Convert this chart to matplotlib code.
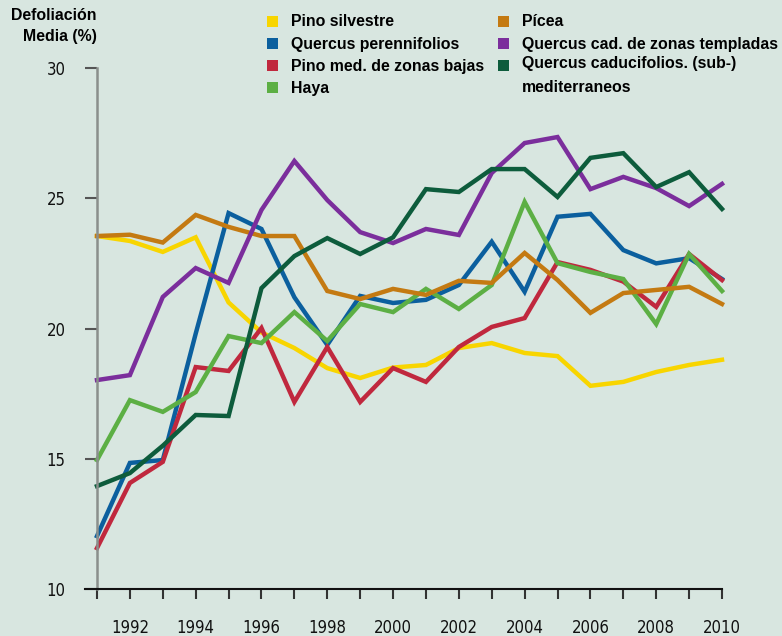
import matplotlib
matplotlib.use('Agg')
import matplotlib.pyplot as plt
from matplotlib.patches import Rectangle

years = list(range(1991, 2011))

pino_silvestre = [23.55, 23.36, 22.94, 23.5, 21.0, 19.85, 19.25, 18.48, 18.1, 18.5,
                  18.6, 19.25, 19.44, 19.06, 18.94, 17.8, 17.95, 18.33, 18.6, 18.8]
quercus_perenn = [12.03, 14.84, 14.95, 19.8, 24.43, 23.82, 21.2, 19.37, 21.25, 20.98,
                  21.1, 21.67, 23.33, 21.41, 24.29, 24.4, 23.01, 22.5, 22.7, 21.9]
pino_med = [11.57, 14.07, 14.88, 18.52, 18.37, 20.02, 17.18, 19.29, 17.18, 18.48,
            17.95, 19.29, 20.06, 20.4, 22.55, 22.25, 21.8, 20.83, 22.86, 21.86]
haya = [14.95, 17.25, 16.8, 17.56, 19.71, 19.44, 20.63, 19.52, 20.94, 20.63,
        21.52, 20.75, 21.67, 24.86, 22.51, 22.17, 21.9, 20.17, 22.86, 21.44]
picea = [23.55, 23.6, 23.3, 24.36, 23.9, 23.55, 23.55, 21.44, 21.13, 21.52,
         21.29, 21.83, 21.75, 22.9, 21.86, 20.6, 21.36, 21.48, 21.6, 20.94]
quercus_templ = [18.02, 18.21, 21.21, 22.32, 21.75, 24.55, 26.43, 24.93, 23.7, 23.28,
                 23.82, 23.59, 25.97, 27.12, 27.35, 25.35, 25.82, 25.39, 24.7, 25.55]
quercus_medit = [13.95, 14.45, 15.5, 16.68, 16.64, 21.55, 22.78, 23.47, 22.86, 23.5,
                 25.35, 25.24, 26.12, 26.12, 25.05, 26.55, 26.73, 25.43, 26.0, 24.59]

names = ['Pino silvestre', 'Quercus perennifolios', 'Pino med. de zonas bajas', 'Haya',
         'Pícea', 'Quercus cad. de zonas templadas', 'Quercus caducifolios. (sub-)\nmediterraneos']
series = [pino_silvestre, quercus_perenn, pino_med, haya, picea, quercus_templ, quercus_medit]
colors = ['#f8d500', '#0b5f9e', '#c0283e', '#5caf44', '#c47a12', '#7b2e9c', '#0d5c3c']

bg = '#d8e6e0'
fig = plt.figure(figsize=(7.82, 6.36), dpi=100, facecolor=bg)
W, H = 782, 636
ax = fig.add_axes([85 / W, (H - 589) / H, (722 - 85) / W, (589 - 68) / H])
ax.set_facecolor(bg)

for vals, c in zip(series, colors):
    ax.plot(years, vals, color=c, lw=3.2, solid_joinstyle='miter', clip_on=False)

ax.set_xlim(1991 - 12 / 32.9, 2010)
ax.set_ylim(10, 30)
for s in ('top', 'right'):
    ax.spines[s].set_visible(False)
ax.spines['left'].set_position(('data', 1991))
ax.spines['left'].set_color('#8a8f8c')
ax.spines['left'].set_linewidth(1.8)
ax.spines['bottom'].set_color('#111111')
ax.spines['bottom'].set_linewidth(1.5)

ax.set_yticks([10, 15, 20, 25, 30])
ax.set_yticklabels(['10', '15', '20', '25', '30'])
ax.set_xticks(years)
ax.set_xticklabels([str(y) if y % 2 == 0 else '' for y in years])
for lab in ax.get_xticklabels() + ax.get_yticklabels():
    lab.set_family('DejaVu Sans')
    lab.set_fontstretch('condensed')
    lab.set_fontsize(12)
    lab.set_color('#111111')
ax.tick_params(axis='y', direction='out', length=8.6, width=1.5, color='#555555', pad=14)
ax.tick_params(axis='x', direction='out', length=7.5, width=1.5, color='#333333', pad=14)

# y label
fig.text(97 / W, 1 - 16 / H, 'Defoliación', ha='right', va='center', fontsize=11.4,
         fontweight='bold', family='Liberation Sans')
fig.text(97 / W, 1 - 36 / H, 'Media (%)', ha='right', va='center', fontsize=11.4,
         fontweight='bold', family='Liberation Sans')

# legend, two columns
col_x = [267, 498]
row_y = [21, 43, 65, 87]
for i, (name, c) in enumerate(zip(names, colors)):
    col = 0 if i < 4 else 1
    row = i if i < 4 else i - 4
    sx, sy = col_x[col], row_y[row]
    fig.patches.append(Rectangle((sx / W, 1 - (sy + 6) / H), 11 / W, 11 / H,
                                 transform=fig.transFigure, facecolor=c, edgecolor='none'))
    if '\n' in name:
        fig.text((sx + 24) / W, 1 - (sy - 9) / H, name, ha='left', va='top',
                 fontsize=11.4, fontweight='bold', family='Liberation Sans', linespacing=1.75)
    else:
        fig.text((sx + 24) / W, 1 - (sy + 1) / H, name, ha='left', va='center',
                 fontsize=11.4, fontweight='bold', family='Liberation Sans')

fig.savefig('out.png', dpi=100, facecolor=bg)
